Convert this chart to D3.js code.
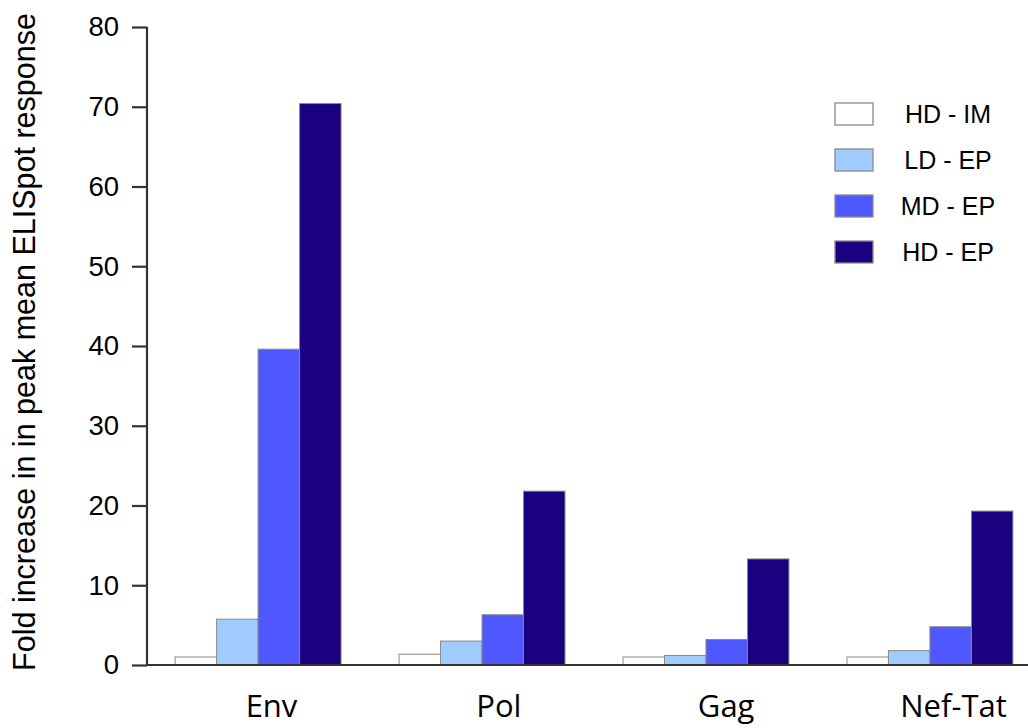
<!DOCTYPE html>
<html>
<head>
<meta charset="utf-8">
<script src="https://cdn.jsdelivr.net/npm/d3@7"></script>
<style>
  html, body { margin: 0; padding: 0; background: #fff; }
  svg { display: block; }
</style>
</head>
<body>
<svg id="chart" width="1028" height="728"></svg>
<script>
const categories = ["Env", "Pol", "Gag", "Nef-Tat"];
const seriesNames = ["HD - IM", "LD - EP", "MD - EP", "HD - EP"];
const hdIm = [1.0, 1.35, 1.0, 1.0];
const ldEp = [5.75, 3.0, 1.2, 1.8];
const mdEp = [39.6, 6.3, 3.2, 4.8];
const hdEp = [70.4, 21.8, 13.3, 19.3];
const seriesValues = [hdIm, ldEp, mdEp, hdEp];
const yTicks = [0, 10, 20, 30, 40, 50, 60, 70, 80];
const colors = ["#ffffff", "#9fcbfe", "#4f58fe", "#1b0080"];

const svg = d3.select("#chart");

const y = d3.scaleLinear().domain([0, 80]).range([665, 27]);
const x0 = d3.scaleBand().domain(categories).range([146, 1042])
  .paddingInner(0.259).paddingOuter(0.13);
const x1 = d3.scaleBand().domain(seriesNames).range([0, x0.bandwidth()]).padding(0);
const xLabel = d3.scalePoint().domain(categories).range([271.5, 953.5]);

// bars
const groups = svg.append("g").selectAll("g")
  .data(categories).join("g")
  .attr("transform", d => `translate(${x0(d)},0)`);

groups.selectAll("rect")
  .data((c, i) => seriesNames.map((s, j) => ({ s, j, v: seriesValues[j][i] })))
  .join("rect")
  .attr("x", d => x1(d.s))
  .attr("y", d => y(d.v))
  .attr("width", x1.bandwidth())
  .attr("height", d => y(0) - y(d.v))
  .attr("fill", d => colors[d.j])
  .attr("stroke", "#8a8a8a")
  .attr("stroke-width", 1);

// y axis
const yAxis = d3.axisLeft(y).tickValues(yTicks).tickSize(15).tickPadding(13);
const gy = svg.append("g").attr("transform", "translate(147,0)").call(yAxis);
gy.select(".domain").attr("stroke", "#333").attr("stroke-width", 2.2)
  .attr("d", `M0,${y(80)}V${y(0)}`);
gy.selectAll(".tick line").attr("stroke", "#333").attr("stroke-width", 2.2);
gy.selectAll(".tick text")
  .attr("font-family", "Liberation Sans, Arial, sans-serif")
  .attr("font-size", 27.5).attr("fill", "#000");

// x axis baseline
svg.append("line")
  .attr("x1", 146).attr("x2", 1028)
  .attr("y1", y(0)).attr("y2", y(0))
  .attr("stroke", "#333").attr("stroke-width", 2.2);

// category labels
svg.append("g").selectAll("text")
  .data(categories).join("text")
  .attr("x", d => xLabel(d))
  .attr("y", 717)
  .attr("text-anchor", "middle")
  .attr("font-family", "Open Sans, sans-serif")
  .attr("font-size", 31)
  .attr("fill", "#000")
  .text(d => d);

// y title
svg.append("text")
  .attr("transform", "translate(35,342) rotate(-90)")
  .attr("text-anchor", "middle")
  .attr("font-family", "Liberation Sans, Arial, sans-serif")
  .attr("font-size", 30.5)
  .attr("fill", "#000")
  .text("Fold increase in in peak mean ELISpot response");

// legend
const legend = svg.append("g").selectAll("g")
  .data(seriesNames).join("g")
  .attr("transform", (d, i) => `translate(835,${103 + i * 46})`);
legend.append("rect")
  .attr("width", 38).attr("height", 22)
  .attr("fill", (d, i) => colors[i])
  .attr("stroke", "#8a8a8a").attr("stroke-width", 1.3);
legend.append("text")
  .attr("x", 113).attr("y", 20)
  .attr("text-anchor", "middle")
  .attr("font-family", "Liberation Sans, Arial, sans-serif")
  .attr("font-size", 25)
  .attr("fill", "#000")
  .text(d => d);
</script>
</body>
</html>
